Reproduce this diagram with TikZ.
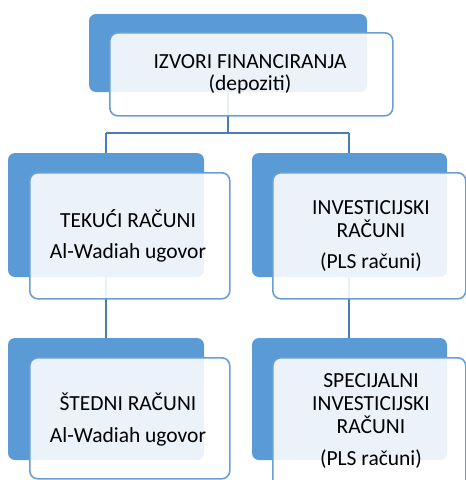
\documentclass[tikz,border=0pt]{standalone}
\usepackage{fontspec}
\setmainfont{Carlito}
\definecolor{backblue}{HTML}{5B9BD5}
\definecolor{edgeblue}{HTML}{6A9FD6}
\definecolor{linkblue}{HTML}{4A7EB0}
\tikzset{
  backbox/.style={fill=backblue, draw=none, rounded corners=7pt},
  frontbox/.style={fill=white, fill opacity=0.88, draw=edgeblue, line width=1.6pt, rounded corners=8pt},
  label/.style={anchor=base, font=\fontsize{21.5}{25}\selectfont, inner sep=0pt, text=black},
  link/.style={draw=linkblue, line width=2pt}
}
\begin{document}
\begin{tikzpicture}[x=1pt,y=-1pt]
\useasboundingbox (0,0) rectangle (466,480);
% connectors (behind boxes)
\coordinate (topc) at (228,92);
\coordinate (jn) at (228,133);
\coordinate (jl) at (106,133);
\coordinate (jr) at (349,133);
\coordinate (l2t) at (106,154);
\coordinate (r2t) at (349,154);
\coordinate (l2b) at (106,277);
\coordinate (r2b) at (349,277);
\coordinate (l3t) at (106,339);
\coordinate (r3t) at (349,339);
\draw[link] (topc) -- (jn);
\draw[link] (jl) -- (jr);
\draw[link] (jl) -- (l2t);
\draw[link] (jr) -- (r2t);
\draw[link] (l2b) -- (l3t);
\draw[link] (r2b) -- (r3t);
% back boxes
\path[backbox] (89,14) rectangle (367,92);
\path[backbox] (8,153) rectangle (204,277);
\path[backbox] (252,153) rectangle (447,277);
\path[backbox] (8,338) rectangle (204,460);
\path[backbox] (252,338) rectangle (447,460);
% front boxes
\node[frontbox, minimum width=283pt, minimum height=83pt, anchor=north west, inner sep=0pt] (top) at (109,32) {};
\node[frontbox, minimum width=200pt, minimum height=126pt, anchor=north west, inner sep=0pt] (tek) at (29,172) {};
\node[frontbox, minimum width=193pt, minimum height=126pt, anchor=north west, inner sep=0pt] (inv) at (272,172) {};
\node[frontbox, minimum width=200pt, minimum height=121pt, anchor=north west, inner sep=0pt] (sted) at (29,357) {};
\node[frontbox, minimum width=193pt, minimum height=130pt, anchor=north west, inner sep=0pt] (spec) at (272,357) {};
% texts
\node[label] (t1) at (250,68) {IZVORI FINANCIRANJA};
\node[label] (t2) at (250,90) {(depoziti)};
\node[label] (a1) at (128,227) {TEKUĆI RAČUNI};
\node[label] (a2) at (128,258) {Al-Wadiah ugovor};
\node[label] (b1) at (371,214) {INVESTICIJSKI};
\node[label] (b2) at (371,237) {RAČUNI};
\node[label] (b3) at (371,268) {(PLS računi)};
\node[label] (c1) at (128,410) {ŠTEDNI RAČUNI};
\node[label] (c2) at (128,442) {Al-Wadiah ugovor};
\node[label] (d1) at (371,387) {SPECIJALNI};
\node[label] (d2) at (371,410) {INVESTICIJSKI};
\node[label] (d3) at (371,433) {RAČUNI};
\node[label] (d4) at (371,465) {(PLS računi)};
\end{tikzpicture}
\end{document}
